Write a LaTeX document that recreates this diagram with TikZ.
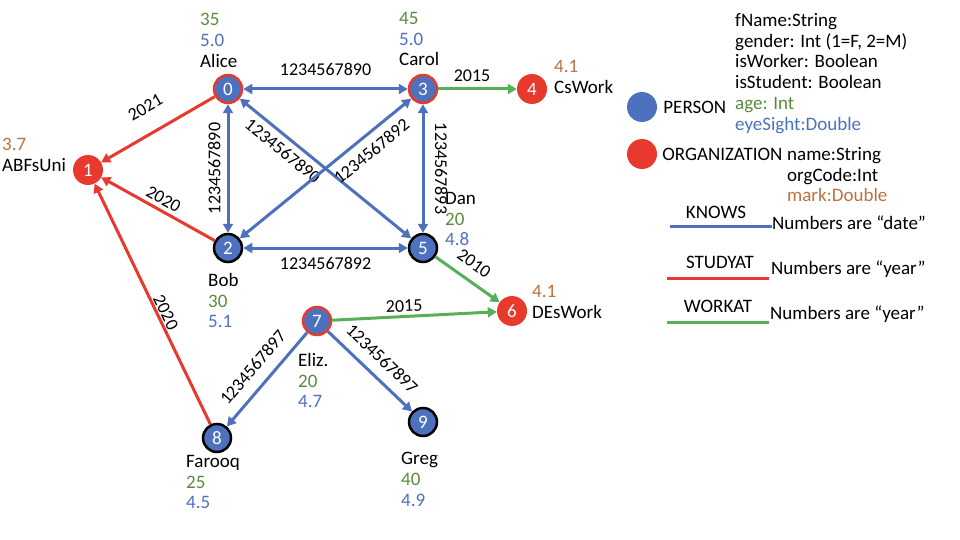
\documentclass[tikz,border=0pt]{standalone}
\usepackage{fontspec}
\setmainfont{Carlito}
\usetikzlibrary{arrows.meta,positioning}
\definecolor{pblue}{HTML}{4E71BE}
\definecolor{ored}{HTML}{E83A2C}
\definecolor{wgreen}{HTML}{55B058}
\definecolor{agegreen}{HTML}{5A8B3C}
\definecolor{markbrown}{HTML}{B97240}
\tikzset{
  person/.style={circle,fill=pblue,draw=black,line width=2.5pt,minimum size=28pt,inner sep=0pt,text=white},
  marked/.style={person,draw=ored},
  org/.style={circle,fill=ored,minimum size=30pt,inner sep=0pt,text=white},
  info/.style={align=left,anchor=north west,inner sep=0pt},
  knows/.style={pblue,line width=3pt,-{Triangle[length=9pt,width=10pt]}},
  knows2/.style={knows,{Triangle[length=9pt,width=10pt]}-{Triangle[length=9pt,width=10pt]}},
  studyat/.style={ored,line width=3pt,-{Triangle[length=9pt,width=10pt]}},
  workat/.style={wgreen,line width=3pt,-{Triangle[length=9pt,width=10pt]}},
  lab/.style={inner sep=0pt,text=black},
  elab/.style={lab,font=\fontsize{18}{20}\selectfont}
}

\begin{document}
\begin{tikzpicture}[x=1pt,y=-1pt,font=\fontsize{19}{20.8}\selectfont]
\useasboundingbox (0,0) rectangle (960,540);
% nodes
\node[marked] (n0) at (228,89) {0};
\node[org] (n1) at (88,170) {1};
\node[person] (n2) at (228,248) {2};
\node[marked] (n3) at (423,89) {3};
\node[org] (n4) at (532,89) {4};
\node[person] (n5) at (423,248) {5};
\node[org] (n6) at (512,311) {6};
\node[marked] (n7) at (317,321) {7};
\node[person] (n8) at (217,438) {8};
\node[person] (n9) at (423,422) {9};
% properties
\node[info] (i0) at (200,13) {\color{agegreen}35\\\color{pblue}5.0\\Alice};
\node[info] (i1) at (2,138) {\color{markbrown}3.7\\ABFsUni};
\node[info] (i2) at (208,273) {Bob\\\color{agegreen}30\\\color{pblue}5.1};
\node[info] (i3) at (399,12) {\color{agegreen}45\\\color{pblue}5.0\\Carol};
\node[info] (i4) at (554,60) {\color{markbrown}4.1\\CsWork};
\node[info] (i5) at (445,192) {Dan\\\color{agegreen}20\\\color{pblue}4.8};
\node[info] (i6) at (532,285) {\color{markbrown}4.1\\DEsWork};
\node[info] (i7) at (298,353) {Eliz.\\\color{agegreen}20\\\color{pblue}4.7};
\node[info] (i8) at (186,455) {Farooq\\\color{agegreen}25\\\color{pblue}4.5};
\node[info] (i9) at (401,452) {Greg\\\color{agegreen}40\\\color{pblue}4.9};
% studyat
\draw[studyat] (n0) -- (n1) node[elab,midway,sloped,above=18pt] {2021};
\draw[studyat] (n2) -- (n1) node[elab,midway,sloped,above=4pt] {2020};
\draw[studyat] (n8) -- (n1) node[elab,pos=.45,sloped,above=1pt] {2020};
% knows
\draw[knows2] (n0) -- (n3) node[elab,midway,above=12pt] {1234567890};
\draw[knows2] (n2) -- (n0) node[elab,midway,sloped,above=6pt] {1234567890};
\draw[knows2] (n0) -- (n5) node[elab,pos=.3,sloped,below=5.5pt] {1234567890};
\draw[knows2] (n2) -- (n3) node[elab,pos=.71,sloped,below=8pt] {1234567892};
\draw[knows2] (n3) -- (n5) node[elab,midway,sloped,above=10.5pt] {1234567893};
\draw[knows2] (n2) -- (n5) node[elab,midway,below=7.5pt] {1234567892};
\draw[knows] (n7) -- (n8) node[elab,midway,sloped,above=11pt] {1234567897};
\draw[knows] (n7) -- (n9) node[elab,midway,sloped,above=10pt] {1234567897};
% workat
\draw[workat] (n3) -- (n4) node[elab,pos=.43,above=5.5pt] {2015};
\draw[workat] (n5) -- (n6) node[elab,pos=.45,sloped,above=9.5pt] {2010};
\draw[workat] (n7) -- (n6) node[elab,pos=.44,sloped,above=3pt] {2015};
% legend
\node[circle,fill=pblue,minimum size=30pt,inner sep=0pt] (lgP) at (642,107) {};
\node[lab,right=6pt of lgP] (lgPt) {PERSON};
\node[org] (lgO) at (642,154) {};
\node[lab,right=5pt of lgO] (lgOt) {ORGANIZATION};
\node[info] (pAttr) at (735,13) {fName:String\\gender: Int (1=F, 2=M)\\isWorker: Boolean\\isStudent: Boolean\\\color{agegreen}age: Int\\\color{pblue}eyeSight:Double};
\node[info] (oAttr) at (787,147) {name:String\\orgCode:Int\\\color{markbrown}mark:Double};
\coordinate (kA) at (670,226.5);
\coordinate (kB) at (772,226.5);
\draw[pblue,line width=3pt] (kA) -- (kB) node[lab,midway,above=6pt,xshift=-5pt] {KNOWS};
\node[lab,anchor=south west] (kT) at (772,230) {Numbers are “date”};
\coordinate (sA) at (667,278);
\coordinate (sB) at (769,278);
\draw[ored,line width=3pt] (sA) -- (sB) node[lab,midway,above=8pt,xshift=2pt] {STUDYAT};
\node[lab,anchor=south west] (sT) at (771,278) {Numbers are “year”};
\coordinate (wA) at (667,322);
\coordinate (wB) at (769,322);
\draw[wgreen,line width=3pt] (wA) -- (wB) node[lab,midway,above=8pt,xshift=0pt] {WORKAT};
\node[lab,anchor=south west] (wT) at (770,323) {Numbers are “year”};
\end{tikzpicture}
\end{document}
